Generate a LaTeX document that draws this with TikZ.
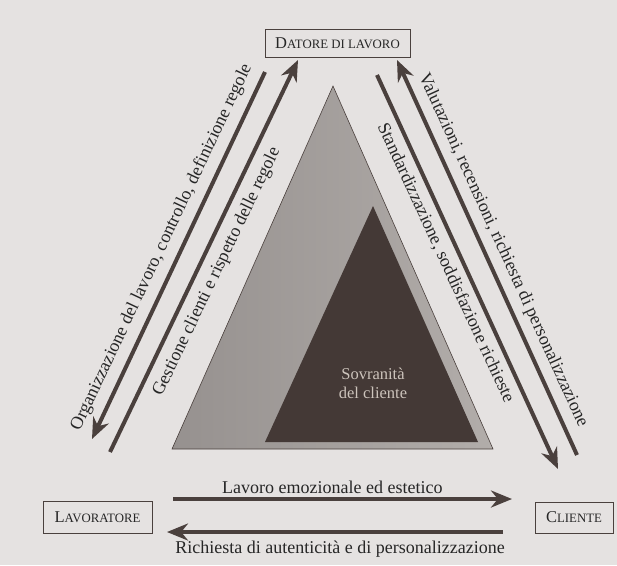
\documentclass[tikz,border=0pt]{standalone}
\usepackage{fontspec}
\setmainfont{Liberation Serif}
\usetikzlibrary{arrows.meta}
\definecolor{paper}{RGB}{229,226,225}
\definecolor{ink}{RGB}{74,64,61}
\definecolor{pyramid}{RGB}{150,145,143}
\definecolor{pyramidlight}{RGB}{178,173,170}
\definecolor{sovrano}{RGB}{68,57,54}
\definecolor{sovranotext}{RGB}{205,196,188}
\newcommand{\finsc}[2]{#1{\fontsize{12.8}{14}\selectfont #2}}
\tikzset{x=1pt, y=-1pt,
	every node/.style={font=\fontsize{18}{20}\selectfont, text=black!85},
	attore/.style={
		draw=ink,
		line width=0.8pt,
		inner sep=0pt,
		font=\fontsize{16.5}{18}\selectfont},
	flusso/.style={
		draw=ink,
		line width=4pt,
		-{Stealth[length=21pt,width=17pt]}}
}
\begin{document}
\begin{tikzpicture}
	\fill[paper] (0,0) rectangle (617,565);
	\useasboundingbox (0,0) rectangle (617,565);
	% triangolo
	\shade[left color=pyramid, right color=pyramidlight, draw=ink, line width=0.6pt]
		(172,449) -- (333,86) -- (493,449) -- cycle;
	\fill[sovrano] (265,442) -- (373,206) -- (478,442) -- cycle;
	\node[text=sovranotext, align=center, font=\fontsize{16.5}{19}\selectfont] (sovranita) at (373,383) {Sovranit\`a\\del cliente};
	% attori
	\node[attore, minimum width=145pt, minimum height=28pt] (datore) at (337.5,43) {\finsc{D}{ATORE DI LAVORO}};
	\node[attore, minimum width=109pt, minimum height=32pt] (lavoratore) at (97.5,517) {\finsc{L}{AVORATORE}};
	\node[attore, minimum width=78pt, minimum height=31pt] (cliente) at (574,517.5) {\finsc{C}{LIENTE}};
	% estremi delle frecce
	\coordinate (org-a) at (265,72);
	\coordinate (org-b) at (92,439);
	\coordinate (ges-a) at (110,452);
	\coordinate (ges-b) at (298,60);
	\coordinate (val-a) at (577,455);
	\coordinate (val-b) at (397,60);
	\coordinate (sta-a) at (377,75);
	\coordinate (sta-b) at (558,469);
	\coordinate (emo-a) at (173,499);
	\coordinate (emo-b) at (512,499);
	\coordinate (aut-a) at (503,532);
	\coordinate (aut-b) at (167,532);
	% frecce
	\draw[flusso] (org-a) -- node[sloped, above=5pt] {Organizzazione del lavoro, controllo, definizione regole} (org-b);
	\draw[flusso] (ges-a) -- node[sloped, below=5pt, pos=0.48] {Gestione clienti e rispetto delle regole} (ges-b);
	\draw[flusso] (val-a) -- node[sloped, above=4pt] {Valutazioni, recensioni, richiesta di personalizzazione} (val-b);
	\draw[flusso] (sta-a) -- node[sloped, below=3pt, pos=0.46] {Standardizzazione, soddisfazione richieste} (sta-b);
	\draw[flusso] (emo-a) -- node[above=0pt, pos=0.47] {Lavoro emozionale ed estetico} (emo-b);
	\draw[flusso] (aut-a) -- node[below=4pt, pos=0.485] {Richiesta di autenticit\`a e di personalizzazione} (aut-b);
\end{tikzpicture}
\end{document}
